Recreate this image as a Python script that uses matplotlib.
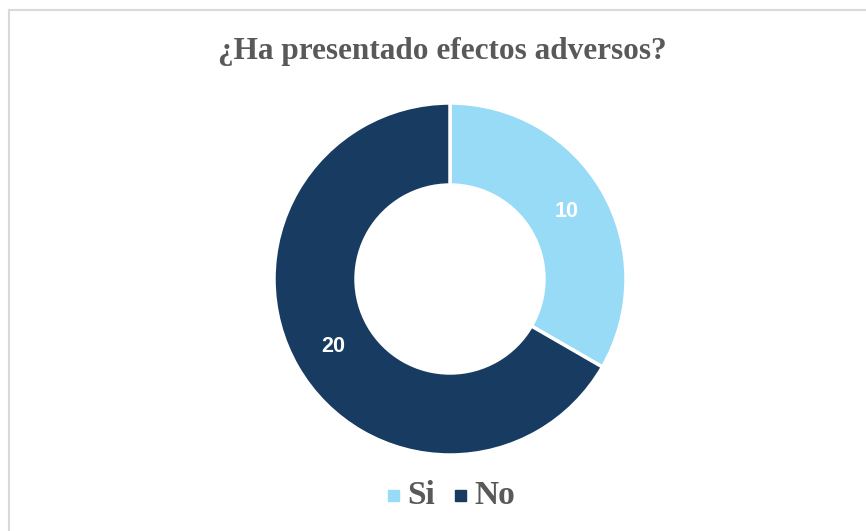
import matplotlib
matplotlib.use("Agg")
import matplotlib.pyplot as plt
from matplotlib.lines import Line2D
from matplotlib.patches import Rectangle

title = "¿Ha presentado efectos adversos?"
categories = ["Si", "No"]
values = [10, 20]
colors = ["#97DBF7", "#173B61"]

W, H = 866, 531
fig = plt.figure(figsize=(W / 100, H / 100), dpi=100)
fig.patch.set_facecolor("white")

# border (top and left)
fig.add_artist(Line2D([8.5 / W, 1], [1 - 9.5 / H, 1 - 9.5 / H], color="#D9D9D9", lw=1.5))
fig.add_artist(Line2D([8.5 / W, 8.5 / W], [0, 1 - 9.5 / H], color="#D9D9D9", lw=1.5))

ax = fig.add_axes([274 / W, (H - 455) / H, 352 / W, 352 / H])

wedges, texts = ax.pie(values, colors=colors, startangle=90, counterclock=False,
                       radius=1.0,
                       wedgeprops=dict(width=0.466, edgecolor="white", linewidth=2.5),
                       labels=[str(v) for v in values], labeldistance=0.765,
                       textprops=dict(color="white", fontsize=15.5, fontweight="bold",
                                      family="Liberation Sans", ha="center", va="center"),
                       frame=True)
ax.set_xlim(-1, 1)
ax.set_ylim(-1, 1)
ax.set_aspect("auto")
ax.axis("off")

fig.text(442 / W, 1 - 51 / H, title, ha="center", va="center",
         family="Liberation Serif", fontweight="bold", fontsize=22.5, color="#595959")

# legend
legend_x = [393, 460]
text_x = [407, 474]
ly = 495
for cx, tx, c, lab in zip(legend_x, text_x, colors, categories):
    fig.add_artist(Rectangle(((cx - 5.5) / W, 1 - (ly + 5.5) / H), 11 / W, 11 / H,
                             transform=fig.transFigure, color=c))
    fig.text(tx / W, 1 - ly / H, lab, ha="left", va="center",
             family="Liberation Serif", fontweight="bold", fontsize=24, color="#595959")

fig.savefig("out.png", dpi=100, facecolor="white")
